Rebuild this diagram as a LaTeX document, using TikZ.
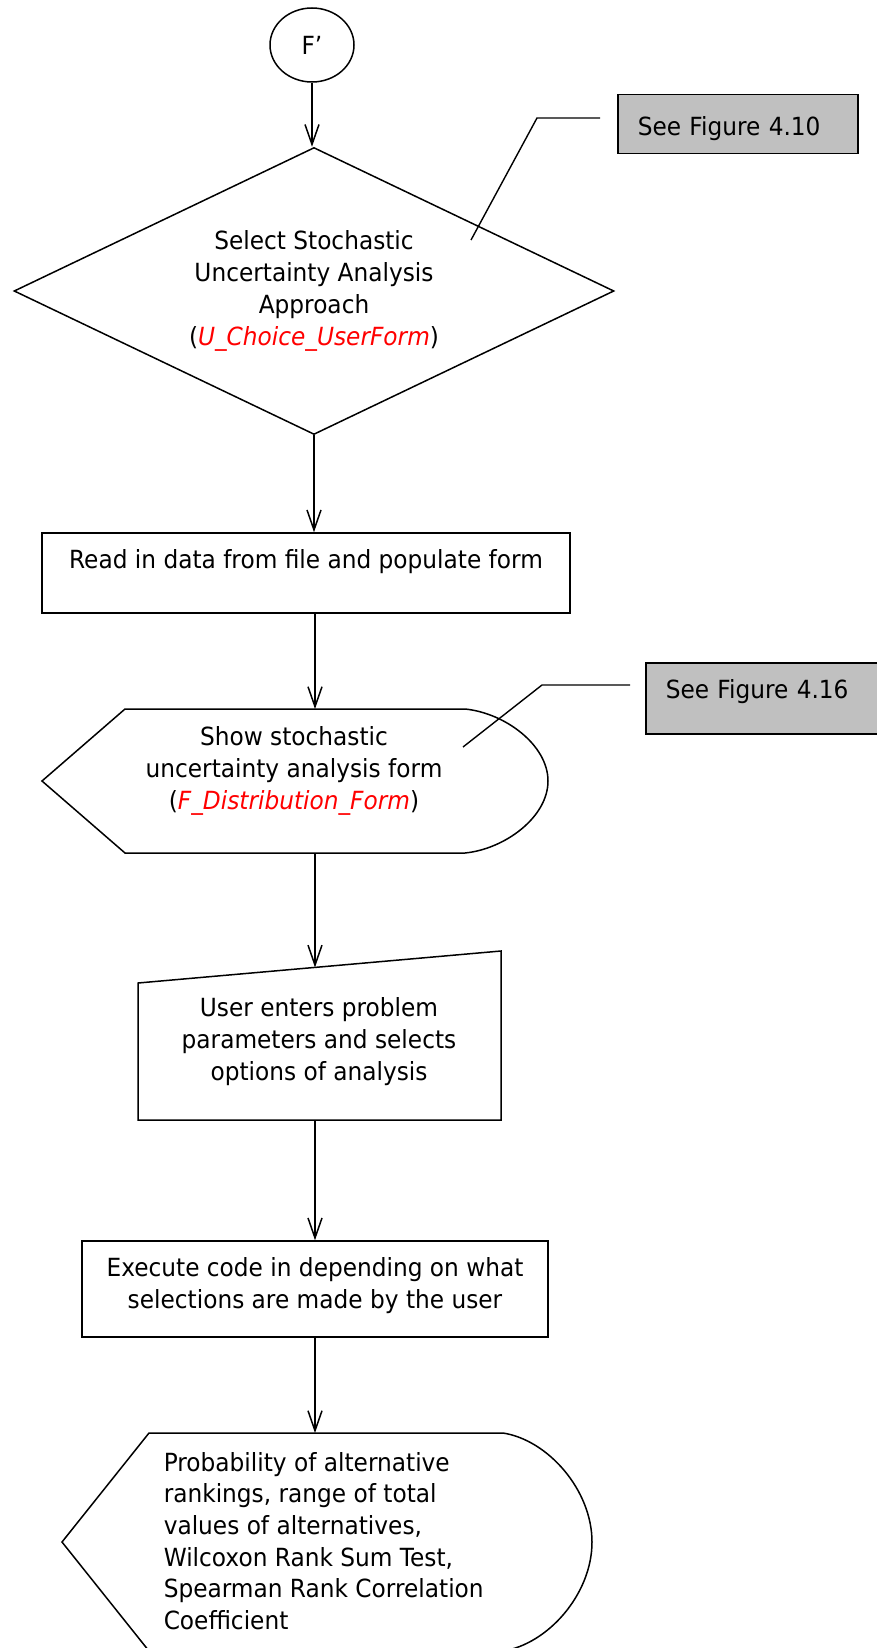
\documentclass[tikz,border=0pt]{standalone}
\usepackage{fontspec}
\setmainfont{DejaVu Sans}[FakeStretch=0.93]
\usetikzlibrary{shapes.geometric,arrows.meta}
\definecolor{notegray}{HTML}{C0C0C0}
\definecolor{formred}{HTML}{FF0000}
\newcommand{\formname}[1]{(\textcolor{formred}{\textit{#1}})}
\newcommand{\lift}[2]{\raisebox{#1}[\height][\depth]{#2}}

\begin{document}
\begin{tikzpicture}[x=1pt,y=-1pt,
  line width=1.5pt,
  font=\fontsize{25}{32}\selectfont,
  arr/.style={-{Straight Barb[length=20pt,width=14pt]}},
  stepbox/.style={draw,rectangle,inner sep=0pt,align=center},
  ghost/.style={inner sep=0pt,outer sep=0pt},
  txt/.style={inner sep=0pt,align=center},
  note/.style={draw,fill=notegray,anchor=north west,inner xsep=20pt,inner ysep=0pt,align=left},
  leader/.style={line width=1.4pt}]

\useasboundingbox (0,0) rectangle (877,1648);
\clip (0,0) rectangle (877,1648);

\coordinate (axis) at (315,0);

% start connector
\node[draw,ellipse,minimum width=84pt,minimum height=74pt,inner sep=0pt] (start) at (312,45) {F’};

% decision
\node[draw,diamond,aspect=2.09,minimum width=600pt,minimum height=287pt,inner sep=0pt,align=center]
  (choice) at (314,291)
  {Select Stochastic\\Uncertainty Analysis\\Approach\\\formname{U\_Choice\_UserForm}};

% note for the decision
\node[note,text width=200pt,minimum height=59pt] (note1) at (617,94) {\lift{-4pt}{See Figure 4.10}};
\coordinate (c1tail) at (471,240);
\coordinate (c1knee) at (537,118);
\coordinate (c1end) at (600,118);
\draw[leader] (c1tail) -- (c1knee) -- (c1end);

% read data
\node[stepbox,minimum width=528pt,minimum height=80pt] (read) at (306,573)
  {\lift{11pt}{Read in data from file and populate form}};

% display: distribution form
\node[ghost,minimum width=506pt,minimum height=144pt] (show) at (295,781) {};
\draw (42,781) -- (125,709) -- (465,709)
  .. controls (505,713) and (548,745) .. (548,781)
  .. controls (548,817) and (505,849) .. (465,853)
  -- (125,853) -- cycle;
\node[txt] (showtext) at (294,770.5)
  {Show stochastic\\uncertainty analysis form\\\formname{F\_Distribution\_Form}};

% note for the display
\node[note,text width=220pt,minimum height=71pt] (note2) at (645,662) {\lift{7pt}{See Figure 4.16}};
\coordinate (c2tail) at (463,747);
\coordinate (c2knee) at (542,685);
\coordinate (c2end) at (630,685);
\draw[leader] (c2tail) -- (c2knee) -- (c2end);

% manual input
\node[ghost,minimum width=363pt,minimum height=169pt] (entry) at (319.5,1035.5) {};
\draw (138,983) -- (501,951) -- (501,1120) -- (138,1120) -- cycle;
\coordinate (entrytop) at (315,967.4);
\node[txt] (entrytext) at (319,1042)
  {User enters problem\\parameters and selects\\options of analysis};

% execute
\node[stepbox,minimum width=466pt,minimum height=96pt] (exec) at (315,1289)
  {\lift{3pt}{\begin{tabular}{@{}c@{}}Execute code in depending on what\\selections are made by the user\end{tabular}}};

% display: results
\node[ghost,minimum width=530pt,minimum height=218pt] (result) at (327,1542) {};
\draw (62,1542) -- (149,1433) -- (503,1433)
  .. controls (548,1440) and (592,1490) .. (592,1542)
  .. controls (592,1594) and (548,1644) .. (503,1651)
  -- (149,1651) -- cycle;
\node[anchor=west,align=left,inner sep=0pt,font=\fontsize{25}{31.6}\selectfont] (resulttext) at (163,1541)
  {Probability of alternative\\rankings, range of total\\values of alternatives,\\Wilcoxon Rank Sum Test,\\Spearman Rank Correlation\\Coefficient};

% flow connectors
\draw[arr] (start.south) -- (start.south |- choice.north);
\draw[arr] (choice.south) -- (choice.south |- read.north);
\draw[arr] (read.south -| axis) -- (show.north -| axis);
\draw[arr] (show.south -| axis) -- (entrytop);
\draw[arr] (entry.south -| axis) -- (exec.north -| axis);
\draw[arr] (exec.south -| axis) -- (result.north -| axis);

\end{tikzpicture}
\end{document}
